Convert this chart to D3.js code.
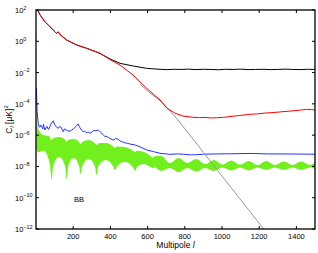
<!DOCTYPE html>
<html>
<head>
<meta charset="utf-8">
<script src="https://cdn.jsdelivr.net/npm/d3@7"></script>
<style>
  body { margin: 0; background: #fff; }
  svg { display: block; font-family: "Liberation Sans", Arial, sans-serif; }
</style>
</head>
<body>
<svg id="chart" width="318" height="253"></svg>
<script>
// --- data (multipole l, log10 of C_l in uK^2) ---
const redL = [2, 9, 22, 48, 75, 102, 110, 120, 130, 165, 219, 273, 344, 398, 452, 522, 595, 667, 703, 747, 790, 844, 880, 909, 940, 971, 1010, 1043, 1090, 1150, 1190, 1231, 1280, 1328, 1360, 1392, 1420, 1455, 1480, 1500];
const redE = [2.4, 2.0, 1.68, 1.25, 0.93, 0.61, 0.5, 0.6, 0.42, 0.08, -0.24, -0.45, -0.77, -1.17, -1.52, -2.16, -3.01, -3.75, -4.27, -4.59, -4.78, -4.86, -4.88, -4.87, -4.9, -4.89, -4.86, -4.81, -4.75, -4.67, -4.64, -4.59, -4.55, -4.5, -4.47, -4.43, -4.4, -4.35, -4.37, -4.39];

const blackL = [2, 9, 22, 48, 75, 102, 110, 120, 130, 165, 219, 273, 344, 398, 452, 523, 595, 640, 667, 700, 740, 780, 820, 860, 900, 940, 980, 1020, 1060, 1100, 1140, 1180, 1220, 1260, 1300, 1340, 1380, 1420, 1460, 1500];
const blackE = [2.4, 2.0, 1.68, 1.25, 0.93, 0.61, 0.5, 0.6, 0.42, 0.08, -0.24, -0.45, -0.77, -1.13, -1.41, -1.58, -1.73, -1.77, -1.79, -1.81, -1.79, -1.8, -1.78, -1.81, -1.79, -1.8, -1.82, -1.79, -1.8, -1.78, -1.81, -1.8, -1.79, -1.81, -1.8, -1.78, -1.8, -1.81, -1.79, -1.8];

const grayL = [560, 613, 683, 763, 900, 1050, 1220, 1240];
const grayE = [-2.75, -3.31, -3.95, -5.03, -7.1, -9.37, -11.94, -12.25];

const blueL = [2, 6, 12, 16, 20, 25, 31, 36, 40, 44, 48, 54, 60, 65, 70, 75, 80, 86, 93, 99, 105, 112, 120, 127, 135, 141, 147, 153, 160, 170, 183, 192, 200, 208, 215, 221, 227, 233, 240, 247, 254, 262, 270, 280, 290, 300, 310, 322, 335, 342, 350, 360, 371, 380, 390, 403, 416, 428, 440, 450, 461, 470, 480, 492, 505, 530, 560, 595, 630, 667, 700, 720, 760, 792, 830, 864, 900, 971, 1050, 1150, 1250, 1328, 1420, 1500];
const blueE = [-2.99, -4.5, -5.24, -5.45, -5.5, -5.35, -5.46, -5.6, -5.3, -5.5, -5.67, -5.5, -5.45, -5.62, -5.6, -5.45, -5.3, -5.2, -5.08, -5.3, -5.4, -5.5, -5.56, -5.45, -5.5, -5.65, -5.78, -5.6, -5.65, -5.72, -5.75, -5.68, -5.6, -5.52, -5.45, -5.35, -5.29, -5.45, -5.6, -5.7, -5.78, -5.74, -5.85, -5.8, -5.88, -5.8, -5.7, -5.72, -5.67, -5.75, -5.85, -5.95, -6.1, -6.08, -6.15, -6.25, -6.31, -6.22, -6.25, -6.35, -6.42, -6.45, -6.5, -6.52, -6.57, -6.62, -6.75, -6.95, -7.05, -7.16, -7.2, -7.23, -7.2, -7.22, -7.26, -7.25, -7.22, -7.2, -7.19, -7.17, -7.2, -7.2, -7.21, -7.22];

const greenL = [2, 12, 40, 70, 76, 84, 92, 125, 157, 165, 173, 203, 232, 240, 248, 283, 317, 326, 335, 375, 415, 425, 435, 478, 522, 532, 542, 580, 617, 627, 637, 673, 720, 767, 814, 862, 909, 956, 1003, 1050, 1097, 1144, 1191, 1238, 1285, 1332, 1379, 1426, 1473, 1500];
const greenHi = [-4.7, -5.6, -5.99, -6.06, -6.2, -6.31, -6.2, -6.12, -6.3, -6.44, -6.3, -6.25, -6.45, -6.57, -6.45, -6.31, -6.52, -6.63, -6.52, -6.5, -6.72, -6.82, -6.72, -6.76, -7.0, -7.08, -7.0, -7.08, -7.35, -7.46, -7.35, -7.33, -7.78, -7.46, -7.78, -7.53, -7.85, -7.59, -7.88, -7.62, -7.88, -7.65, -7.91, -7.65, -7.91, -7.69, -7.91, -7.69, -7.91, -7.72];
const greenLo = [-6.9, -7.1, -7.0, -7.6, -8.0, -8.81, -8.0, -7.4, -8.0, -8.81, -8.0, -7.46, -8.0, -8.49, -8.0, -7.53, -8.0, -8.55, -8.0, -7.59, -8.0, -8.23, -8.0, -7.72, -8.05, -8.29, -8.05, -7.85, -8.05, -8.1, -8.05, -8.29, -8.1, -8.36, -8.1, -8.33, -8.1, -8.29, -8.07, -8.26, -8.07, -8.26, -8.07, -8.23, -8.07, -8.23, -8.07, -8.23, -8.07, -8.16];

const xTicks = [200, 400, 600, 800, 1000, 1200, 1400];
const yTickExp = [2, 0, -2, -4, -6, -8, -10, -12];

// --- layout ---
const W = 318, H = 253;
const m = { left: 36, right: 3, top: 10, bottom: 24 };
const svg = d3.select('#chart');

const x = d3.scaleLinear().domain([0, 1500]).range([m.left, W - m.right]);
const y = d3.scaleLog().domain([1e-12, 1e2]).range([H - m.bottom, m.top]);

const pts = (ls, es) => ls.map((l, i) => ({ l, v: Math.pow(10, es[i]) }));

svg.append('clipPath').attr('id', 'clip')
  .append('rect')
  .attr('x', m.left).attr('y', m.top)
  .attr('width', W - m.left - m.right).attr('height', H - m.top - m.bottom);

const g = svg.append('g').attr('clip-path', 'url(#clip)');

// green band
const green = greenL.map((l, i) => ({ l, lo: Math.pow(10, greenLo[i]), hi: Math.pow(10, greenHi[i]) }));
g.append('path')
  .datum(green)
  .attr('fill', '#72f01e')
  .attr('d', d3.area().curve(d3.curveMonotoneX).x(d => x(d.l)).y0(d => y(d.lo)).y1(d => y(d.hi)));

const line = d3.line().x(d => x(d.l)).y(d => y(d.v));
const series = [
  { data: pts(blueL, blueE), color: '#2233ff' },
  { data: pts(grayL, grayE), color: '#999' },
  { data: pts(blackL, blackE), color: '#000' },
  { data: pts(redL, redE), color: '#ff0000' }
];
series.forEach(s => {
  g.append('path')
    .datum(s.data)
    .attr('fill', 'none')
    .attr('stroke', s.color)
    .attr('stroke-width', 1)
    .attr('d', line);
});

// --- frame & ticks ---
const x0 = m.left, x1 = W - m.right, y0 = H - m.bottom, y1 = m.top;
svg.append('rect')
  .attr('x', x0).attr('y', y1)
  .attr('width', x1 - x0).attr('height', y0 - y1)
  .attr('fill', 'none').attr('stroke', '#000').attr('stroke-width', 1.3);

const tk = svg.append('g').attr('stroke', '#000').attr('stroke-width', 1);
xTicks.forEach(t => {
  tk.append('line').attr('x1', x(t)).attr('x2', x(t)).attr('y1', y0).attr('y2', y0 - 3);
  tk.append('line').attr('x1', x(t)).attr('x2', x(t)).attr('y1', y1).attr('y2', y1 + 3);
});
yTickExp.forEach(e => {
  const yy = y(Math.pow(10, e));
  tk.append('line').attr('x1', x0).attr('x2', x0 + 3).attr('y1', yy).attr('y2', yy);
  tk.append('line').attr('x1', x1).attr('x2', x1 - 3).attr('y1', yy).attr('y2', yy);
});

// tick labels
svg.append('g').selectAll('text')
  .data(xTicks).enter().append('text')
  .attr('x', d => x(d)).attr('y', 239)
  .attr('text-anchor', 'middle')
  .attr('font-size', 7.5)
  .text(d => d);

const yl = svg.append('g').selectAll('text')
  .data(yTickExp).enter().append('text')
  .attr('x', 15).attr('y', d => y(Math.pow(10, d)) + 3)
  .attr('font-size', 7.5);
yl.append('tspan').text('10');
yl.append('tspan').attr('dy', -3.5).attr('font-size', 5.5).text(d => d === 0 ? '0' : String(d).replace('-', '\u2212'));

// axis titles
const xt = svg.append('text')
  .attr('x', (x0 + x1) / 2).attr('y', 248)
  .attr('text-anchor', 'middle').attr('font-size', 8.5);
xt.append('tspan').text('Multipole ');
xt.append('tspan').attr('font-style', 'italic').text('l');

const yt = svg.append('text')
  .attr('transform', `translate(12,${(y0 + y1) / 2}) rotate(-90)`)
  .attr('text-anchor', 'middle').attr('font-size', 8.5);
yt.append('tspan').text('C');
yt.append('tspan').attr('font-size', 6).attr('dy', 2).attr('font-style', 'italic').text('l');
yt.append('tspan').attr('dy', -2).text(' [\u03bcK]');
yt.append('tspan').attr('font-size', 6).attr('dy', -4).text('2');

svg.append('text')
  .attr('x', 74).attr('y', 202)
  .attr('font-size', 7.5)
  .text('BB');
</script>
</body>
</html>
